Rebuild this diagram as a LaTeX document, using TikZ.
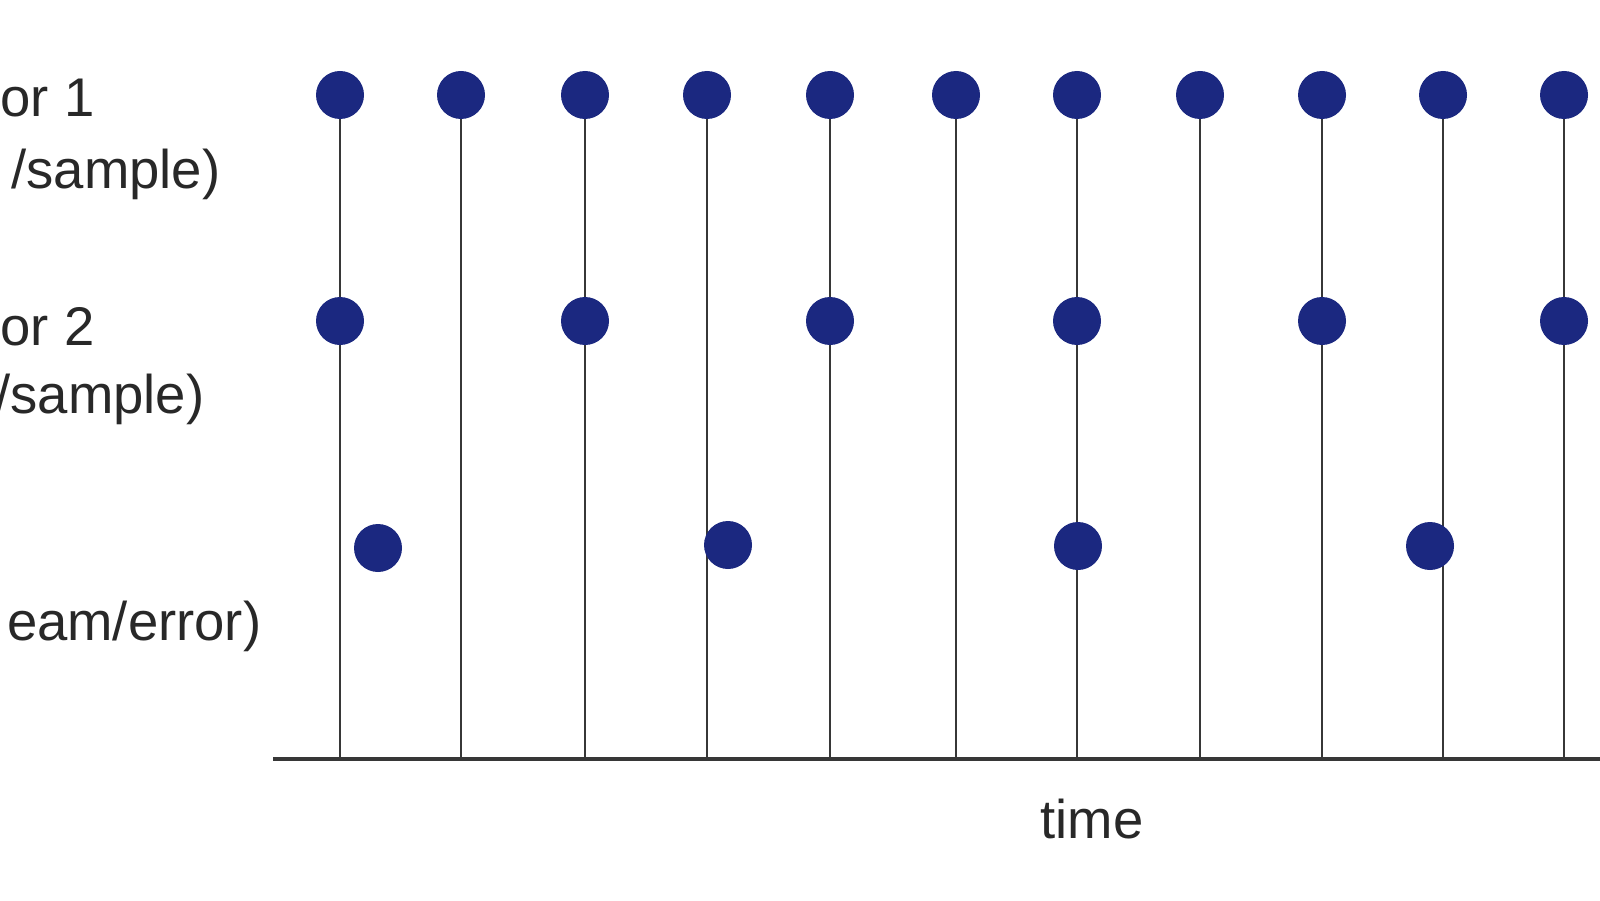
\documentclass[tikz,border=0pt]{standalone}
\usepackage{fontspec}
\setmainfont{Liberation Sans}
\usetikzlibrary{backgrounds}
\definecolor{puntoAzul}{RGB}{27,40,128}
\definecolor{lineaGris}{RGB}{55,55,55}
\definecolor{textoGris}{RGB}{40,40,40}

\begin{document}
\begin{tikzpicture}[
    x=1cm, y=1cm,
    axis/.style={lineaGris, line width=0.9pt},
    stem/.style={lineaGris, line width=0.8pt},
    dot/.style={circle, fill=puntoAzul, inner sep=0pt, minimum size=0.48cm},
    etiqueta/.style={text=textoGris, inner sep=0pt, font=\fontsize{15.5}{18}\selectfont}
]
    \useasboundingbox (0,0) rectangle (16,9);
    \clip (0,0) rectangle (16,9);

    % --- EJE DEL TIEMPO ---
    \coordinate (ejeIni) at (2.73,1.41);
    \coordinate (ejeFin) at (16,1.41);
    \draw[axis] (ejeIni) -- (ejeFin);
    \node[etiqueta, anchor=base] (tiempo) at (10.92,0.62) {time};

    % --- FILA 1: todos los instantes ---
    \foreach \x [count=\i] in {3.40,4.61,5.85,7.07,8.30,9.56,10.77,12.00,13.22,14.43,15.64} {
        \node[dot] (r1-\i) at (\x,8.05) {};
        \coordinate (t-\i) at (\x,1.41);
        \begin{pgfonlayer}{background}
            \draw[stem] (r1-\i.center) -- (t-\i);
        \end{pgfonlayer}
    }

    % --- FILA 2: uno de cada dos ---
    \coordinate (fila2) at (0,5.79);
    \foreach \i in {1,3,5,7,9,11} {
        \node[dot] (r2-\i) at (r1-\i |- fila2) {};
    }

    % --- FILA 3: desfasados ---
    \foreach \x/\y [count=\i] in {3.78/3.52, 7.28/3.55, 10.78/3.54, 14.30/3.54} {
        \node[dot] (r3-\i) at (\x,\y) {};
    }

    % --- ETIQUETAS ---
    \node[etiqueta, anchor=base west] (sensor1) at (0,7.83) {or 1};
    \node[etiqueta, anchor=base east] (tasa1) at (2.21,7.12) {/sample)};
    \node[etiqueta, anchor=base west] (sensor2) at (0,5.55) {or 2};
    \node[etiqueta, anchor=base east] (tasa2) at (2.05,4.87) {/sample)};
    \node[etiqueta, anchor=base east] (flujo) at (2.62,2.60) {eam/error)};

\end{tikzpicture}
\end{document}
